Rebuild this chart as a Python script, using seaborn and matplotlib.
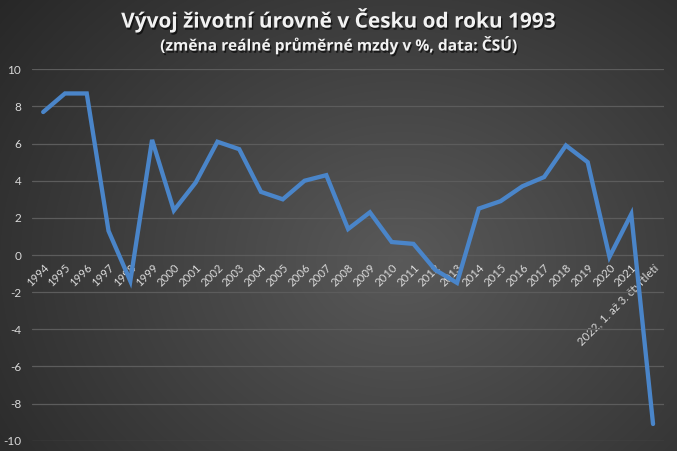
import numpy as np
import pandas as pd
import matplotlib
matplotlib.use("Agg")
import matplotlib.pyplot as plt
import matplotlib.patheffects as pe
import seaborn as sns

# data
years = ["1994", "1995", "1996", "1997", "1998", "1999", "2000", "2001", "2002",
         "2003", "2004", "2005", "2006", "2007", "2008", "2009", "2010", "2011",
         "2012", "2013", "2014", "2015", "2016", "2017", "2018", "2019", "2020",
         "2021", "2022, 1. až 3. čtvrtletí"]
wage_change = [7.7, 8.7, 8.7, 1.3, -1.4, 6.2, 2.4, 3.9, 6.1,
               5.7, 3.4, 3.0, 4.0, 4.3, 1.4, 2.3, 0.7, 0.6,
               -0.8, -1.5, 2.5, 2.9, 3.7, 4.2, 5.9, 5.0, -0.1,
               2.2, -9.1]
y_ticks = [-10, -8, -6, -4, -2, 0, 2, 4, 6, 8, 10]

title = "Vývoj životní úrovně v Česku od roku 1993"
subtitle = "(změna reálné průměrné mzdy v %, data: ČSÚ)"

df = pd.DataFrame({"idx": range(len(years)), "value": wage_change})

sns.set_style("dark")
plt.rcParams["font.family"] = ["Lato", "DejaVu Sans"]

text_color = "#d9d9d9"
line_color = "#4a85c9"
grid_color = "#5c5c5c"

fig = plt.figure(figsize=(6.77, 4.51), dpi=100)

# pozadí - radiální gradient
bg = fig.add_axes([0, 0, 1, 1], zorder=-10)
h, w = 451, 677
yy, xx = np.mgrid[0:h, 0:w]
dist = np.sqrt(((xx - 400) / 520.0) ** 2 + ((yy - 260) / 430.0) ** 2)
dist = np.clip(dist, 0, 1)
c_in, c_out = 0.35, 0.15
shade = c_in + (c_out - c_in) * dist
bg.imshow(np.dstack([shade, shade, shade]), aspect="auto", extent=[0, 1, 0, 1])
bg.set_axis_off()

ax = fig.add_axes([0.0477, 0.0228, 0.933, 0.8235])
ax.set_facecolor("none")

sns.lineplot(data=df, x="idx", y="value", ax=ax, color=line_color,
             linewidth=3.1, solid_joinstyle="miter", zorder=3)

ax.set_ylim(-10, 10)
ax.set_xlim(-0.5, len(years) - 0.5)
ax.set_yticks(y_ticks)
ax.set_yticklabels([str(t) for t in y_ticks])
ax.yaxis.grid(True, color=grid_color, linewidth=0.9)
ax.xaxis.grid(False)
ax.set_xlabel("")
ax.set_ylabel("")

# popisky let u nulové osy
ax.spines["bottom"].set_position(("data", 0))
for s in ["top", "right", "left", "bottom"]:
    ax.spines[s].set_visible(False)
ax.set_xticks(range(len(years)))
ax.set_xticklabels(years, rotation=45, ha="right", va="top",
                   rotation_mode="anchor")
ax.tick_params(axis="x", length=0, pad=5, labelsize=8.2, labelcolor=text_color)
ax.tick_params(axis="y", length=0, pad=8, labelsize=8.5, labelcolor=text_color)
for lab in ax.get_xticklabels():
    lab.set_zorder(4)

shadow = [pe.withSimplePatchShadow(offset=(1, -1.5), shadow_rgbFace="black", alpha=0.6)]
fig.text(0.5, 0.956, title, ha="center", va="center", fontsize=15,
         fontweight="bold", color="#f2f2f2", path_effects=shadow,
         family=["Open Sans", "DejaVu Sans"])
fig.text(0.5, 0.900, subtitle, ha="center", va="center", fontsize=11.2,
         fontweight="bold", color="#f2f2f2", path_effects=shadow,
         family=["Open Sans", "DejaVu Sans"])

fig.savefig("out.png", dpi=100)
